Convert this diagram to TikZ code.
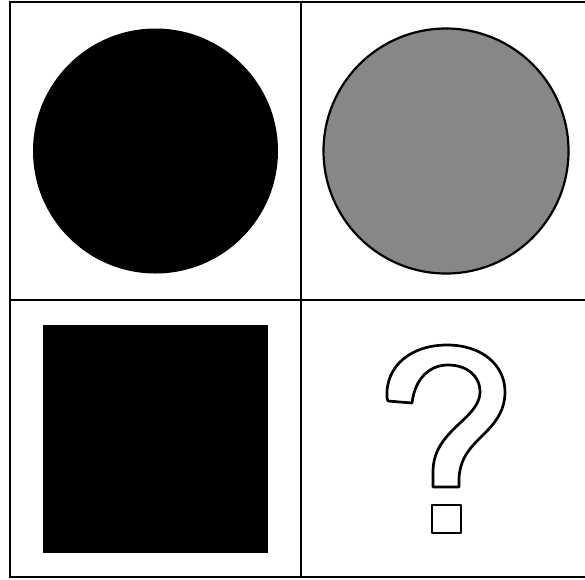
\documentclass[tikz,border=0pt]{standalone}
\begin{document}
\begin{tikzpicture}[x=1pt,y=-1pt,
        cell/.style={draw=black, line width=2.8pt},
        disc/.style={circle, minimum size=245pt, inner sep=0pt},
        qline/.style={draw=black, line width=2.7pt, fill=white, line join=round}
    ]
        \clip (0,0) rectangle (585,579);
        \fill[white] (0,0) rectangle (585,579);

        % grid
        \draw[cell] (10,2) rectangle (600,577);
        \draw[cell] (301,2) -- (301,577);
        \draw[cell] (10,300) -- (600,300);

        % shapes
        \node[disc, fill=black] (dark) at (155.5,151) {};
        \node[disc, fill=black!47, draw=black, line width=2.2pt] (grey) at (446,151) {};
        \node[fill=black, minimum width=225pt, minimum height=228pt, inner sep=0pt] (square) at (155.5,439) {};

        % question mark
        \draw[qline] (387,398) .. controls (385,365) and (412,345) .. (447,345)
            .. controls (482,345) and (505,365) .. (505,392)
            .. controls (505,415) and (490,428) .. (478,440)
            .. controls (466,452) and (460,462) .. (459,478)
            -- (459,487) -- (433,487) -- (433,472)
            .. controls (433,450) and (445,437) .. (460,423)
            .. controls (472,412) and (480,403) .. (480,392)
            .. controls (480,375) and (466,365) .. (448,365)
            .. controls (430,365) and (415,378) .. (412,403)
            -- (388,401) -- cycle;
        \draw[qline] (432,505) rectangle (461,533);
    \end{tikzpicture}
\end{document}
